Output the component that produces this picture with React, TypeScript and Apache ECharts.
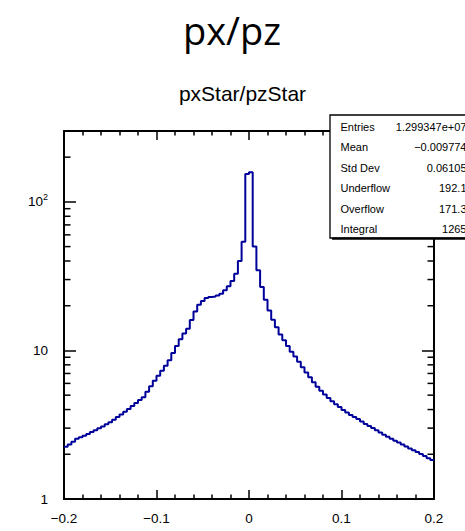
import React, { useEffect, useRef } from "react";
import * as echarts from "echarts";

// Histogram range and binning
const X_MIN = -0.2;
const X_MAX = 0.2;
const BIN_COUNT = 100;
const BIN_WIDTH = (X_MAX - X_MIN) / BIN_COUNT;

// Bin contents, left to right (100 bins of 0.004)
const binCounts = [
  2.25, 2.33, 2.43, 2.54, 2.6, 2.67, 2.74, 2.82, 2.9, 2.99,
  3.08, 3.18, 3.29, 3.42, 3.56, 3.71, 3.86, 4.03, 4.22, 4.42,
  4.63, 4.85, 5.28, 5.75, 6.25, 6.75, 7.3, 7.9, 8.6, 9.6,
  10.7, 11.9, 13.0, 14.0, 16.0, 18.3, 20.3, 21.5, 22.5, 22.9,
  23.1, 23.4, 24.1, 25.4, 27.0, 29.3, 32.8, 40.0, 54.0, 154.0,
  158.0, 50.0, 34.6, 26.7, 21.9, 18.6, 16.1, 14.3, 12.8, 11.7,
  10.7, 9.8, 9.1, 8.4, 7.7, 7.1, 6.6, 6.1, 5.7, 5.35,
  5.05, 4.78, 4.55, 4.35, 4.16, 3.98, 3.82, 3.68, 3.56, 3.45,
  3.32, 3.2, 3.1, 3.0, 2.9, 2.8, 2.71, 2.62, 2.54, 2.47,
  2.4, 2.33, 2.26, 2.19, 2.13, 2.07, 2.01, 1.95, 1.88, 1.83,
];

// Axis settings
const Y_MIN = 1;
const Y_MAX = 300;
const X_INTERVAL = 0.1;
const yMinorTicks = [2, 3, 4, 5, 6, 7, 8, 9, 20, 30, 40, 50, 60, 70, 80, 90, 200];

// Titles and statistics box
const mainTitle = "px/pz";
const histTitle = "pxStar/pzStar";
const statLabels = ["Entries", "Mean", "Std Dev", "Underflow", "Overflow", "Integral"];
const statValues = ["1.299347e+07", "\u22120.009774", "0.06105", "192.1", "171.3", "1265"];

const FONT = "'Liberation Sans', Arial, Helvetica, sans-serif";
const LINE_BLUE = "#00009a";

export default function App() {
  const ref = useRef<HTMLDivElement>(null);

  useEffect(() => {
    if (!ref.current) return;
    const chart = echarts.init(ref.current, null, { renderer: "svg" });

    // Step outline: each bin contributes its left and right corner at its height
    const stepPoints: number[][] = [];
    binCounts.forEach((v, i) => {
      const lo = X_MIN + i * BIN_WIDTH;
      const hi = X_MIN + (i + 1) * BIN_WIDTH;
      stepPoints.push([lo, v], [hi, v]);
    });

    const xLabel = (v: number) => {
      if (Math.abs(v) < 1e-9) return "0";
      return (v < 0 ? "\u2212" : "") + Math.abs(v).toFixed(1);
    };
    const yLabel = (v: number) => {
      const e = Math.round(Math.log10(v));
      if (Math.abs(Math.pow(10, e) - v) > 1e-6) return "";
      if (e === 0) return "{m|1}";
      if (e === 1) return "{m|10}";
      return "{m|10}{e|" + e + "}";
    };

    const xAxisCommon = {
      type: "value" as const,
      min: X_MIN,
      max: X_MAX,
      interval: X_INTERVAL,
      splitLine: { show: false },
      axisLine: { show: true, onZero: false, lineStyle: { color: "#000", width: 2 } },
      axisTick: { show: true, inside: true, length: 9, lineStyle: { color: "#000", width: 1.5 } },
      minorTick: { show: true, splitNumber: 5, length: 4.5, lineStyle: { color: "#000", width: 1.5 } },
    };
    const yAxisCommon = {
      type: "log" as const,
      logBase: 10,
      min: Y_MIN,
      max: Y_MAX,
      splitLine: { show: false },
      axisLine: { show: true, onZero: false, lineStyle: { color: "#000", width: 2 } },
      axisTick: { show: true, inside: true, length: 12, lineStyle: { color: "#000", width: 1.5 } },
    };

    const statTexts: any[] = [];
    statLabels.forEach((label, i) => {
      const y = 126.5 + i * 20.5;
      statTexts.push({
        type: "text",
        x: 340.5,
        y,
        z: 101,
        style: { text: label, fill: "#000", font: `11px ${FONT}`, textAlign: "left", textVerticalAlign: "middle" },
      });
      statTexts.push({
        type: "text",
        x: 466.5,
        y,
        z: 101,
        style: { text: statValues[i], fill: "#000", font: `11px ${FONT}`, textAlign: "right", textVerticalAlign: "middle" },
      });
    });

    chart.setOption({
      animation: false,
      backgroundColor: "#fff",
      textStyle: { fontFamily: FONT },
      grid: { left: 64, right: 31, top: 131, bottom: 32, containLabel: false },
      xAxis: [
        {
          ...xAxisCommon,
          position: "bottom",
          axisLabel: { show: true, margin: 12, color: "#000", fontSize: 13.5, fontFamily: FONT, formatter: xLabel },
        },
        {
          ...xAxisCommon,
          position: "top",
          axisLabel: { show: false },
        },
      ],
      yAxis: [
        {
          ...yAxisCommon,
          position: "left",
          axisLabel: {
            show: true,
            margin: 16,
            color: "#000",
            fontFamily: FONT,
            formatter: yLabel,
            rich: {
              m: { fontSize: 13.5, color: "#000", fontFamily: FONT },
              e: { fontSize: 9, color: "#000", fontFamily: FONT, padding: [0, 0, 9, 0] },
            },
          },
        },
        {
          ...yAxisCommon,
          position: "right",
          axisLabel: { show: false },
        },
      ],
      series: [
        {
          type: "line",
          xAxisIndex: 0,
          yAxisIndex: 0,
          data: stepPoints,
          symbol: "none",
          lineStyle: { color: LINE_BLUE, width: 2 },
          clip: true,
          silent: true,
          z: 3,
        },
        {
          // minor decade ticks on both vertical frame sides
          type: "custom",
          xAxisIndex: 0,
          yAxisIndex: 0,
          silent: true,
          clip: false,
          data: yMinorTicks.map((v) => [X_MIN, v]),
          encode: { x: 0, y: 1 },
          renderItem: (_params: any, api: any) => {
            const v = api.value(1);
            const l = api.coord([X_MIN, v]);
            const r = api.coord([X_MAX, v]);
            return {
              type: "group",
              children: [
                { type: "line", shape: { x1: l[0], y1: l[1], x2: l[0] + 6.5, y2: l[1] }, style: { stroke: "#000", lineWidth: 1.5 } },
                { type: "line", shape: { x1: r[0] - 6.5, y1: r[1], x2: r[0], y2: r[1] }, style: { stroke: "#000", lineWidth: 1.5 } },
              ],
            };
          },
        },
      ],
      graphic: [
        {
          type: "text",
          x: 232,
          y: 30,
          z: 100,
          style: { text: mainTitle, fill: "#000", font: `38px 'Open Sans', ${FONT}`, textAlign: "center", textVerticalAlign: "middle" },
        },
        {
          type: "text",
          x: 242.5,
          y: 93,
          z: 100,
          style: { text: histTitle, fill: "#000", font: `21px ${FONT}`, textAlign: "center", textVerticalAlign: "middle" },
        },
        {
          type: "rect",
          z: 100,
          shape: { x: 330, y: 115, width: 150, height: 123 },
          style: { fill: "#fff", stroke: "#000", lineWidth: 1.3 },
        },
        {
          type: "rect",
          z: 100,
          shape: { x: 332, y: 237.5, width: 150, height: 2.2 },
          style: { fill: "#000" },
        },
        ...statTexts,
      ],
    });

    return () => chart.dispose();
  }, []);

  return (
    <div
      ref={ref}
      style={{ position: "fixed", left: 0, top: 0, width: 465, height: 531, background: "#fff" }}
    />
  );
}
